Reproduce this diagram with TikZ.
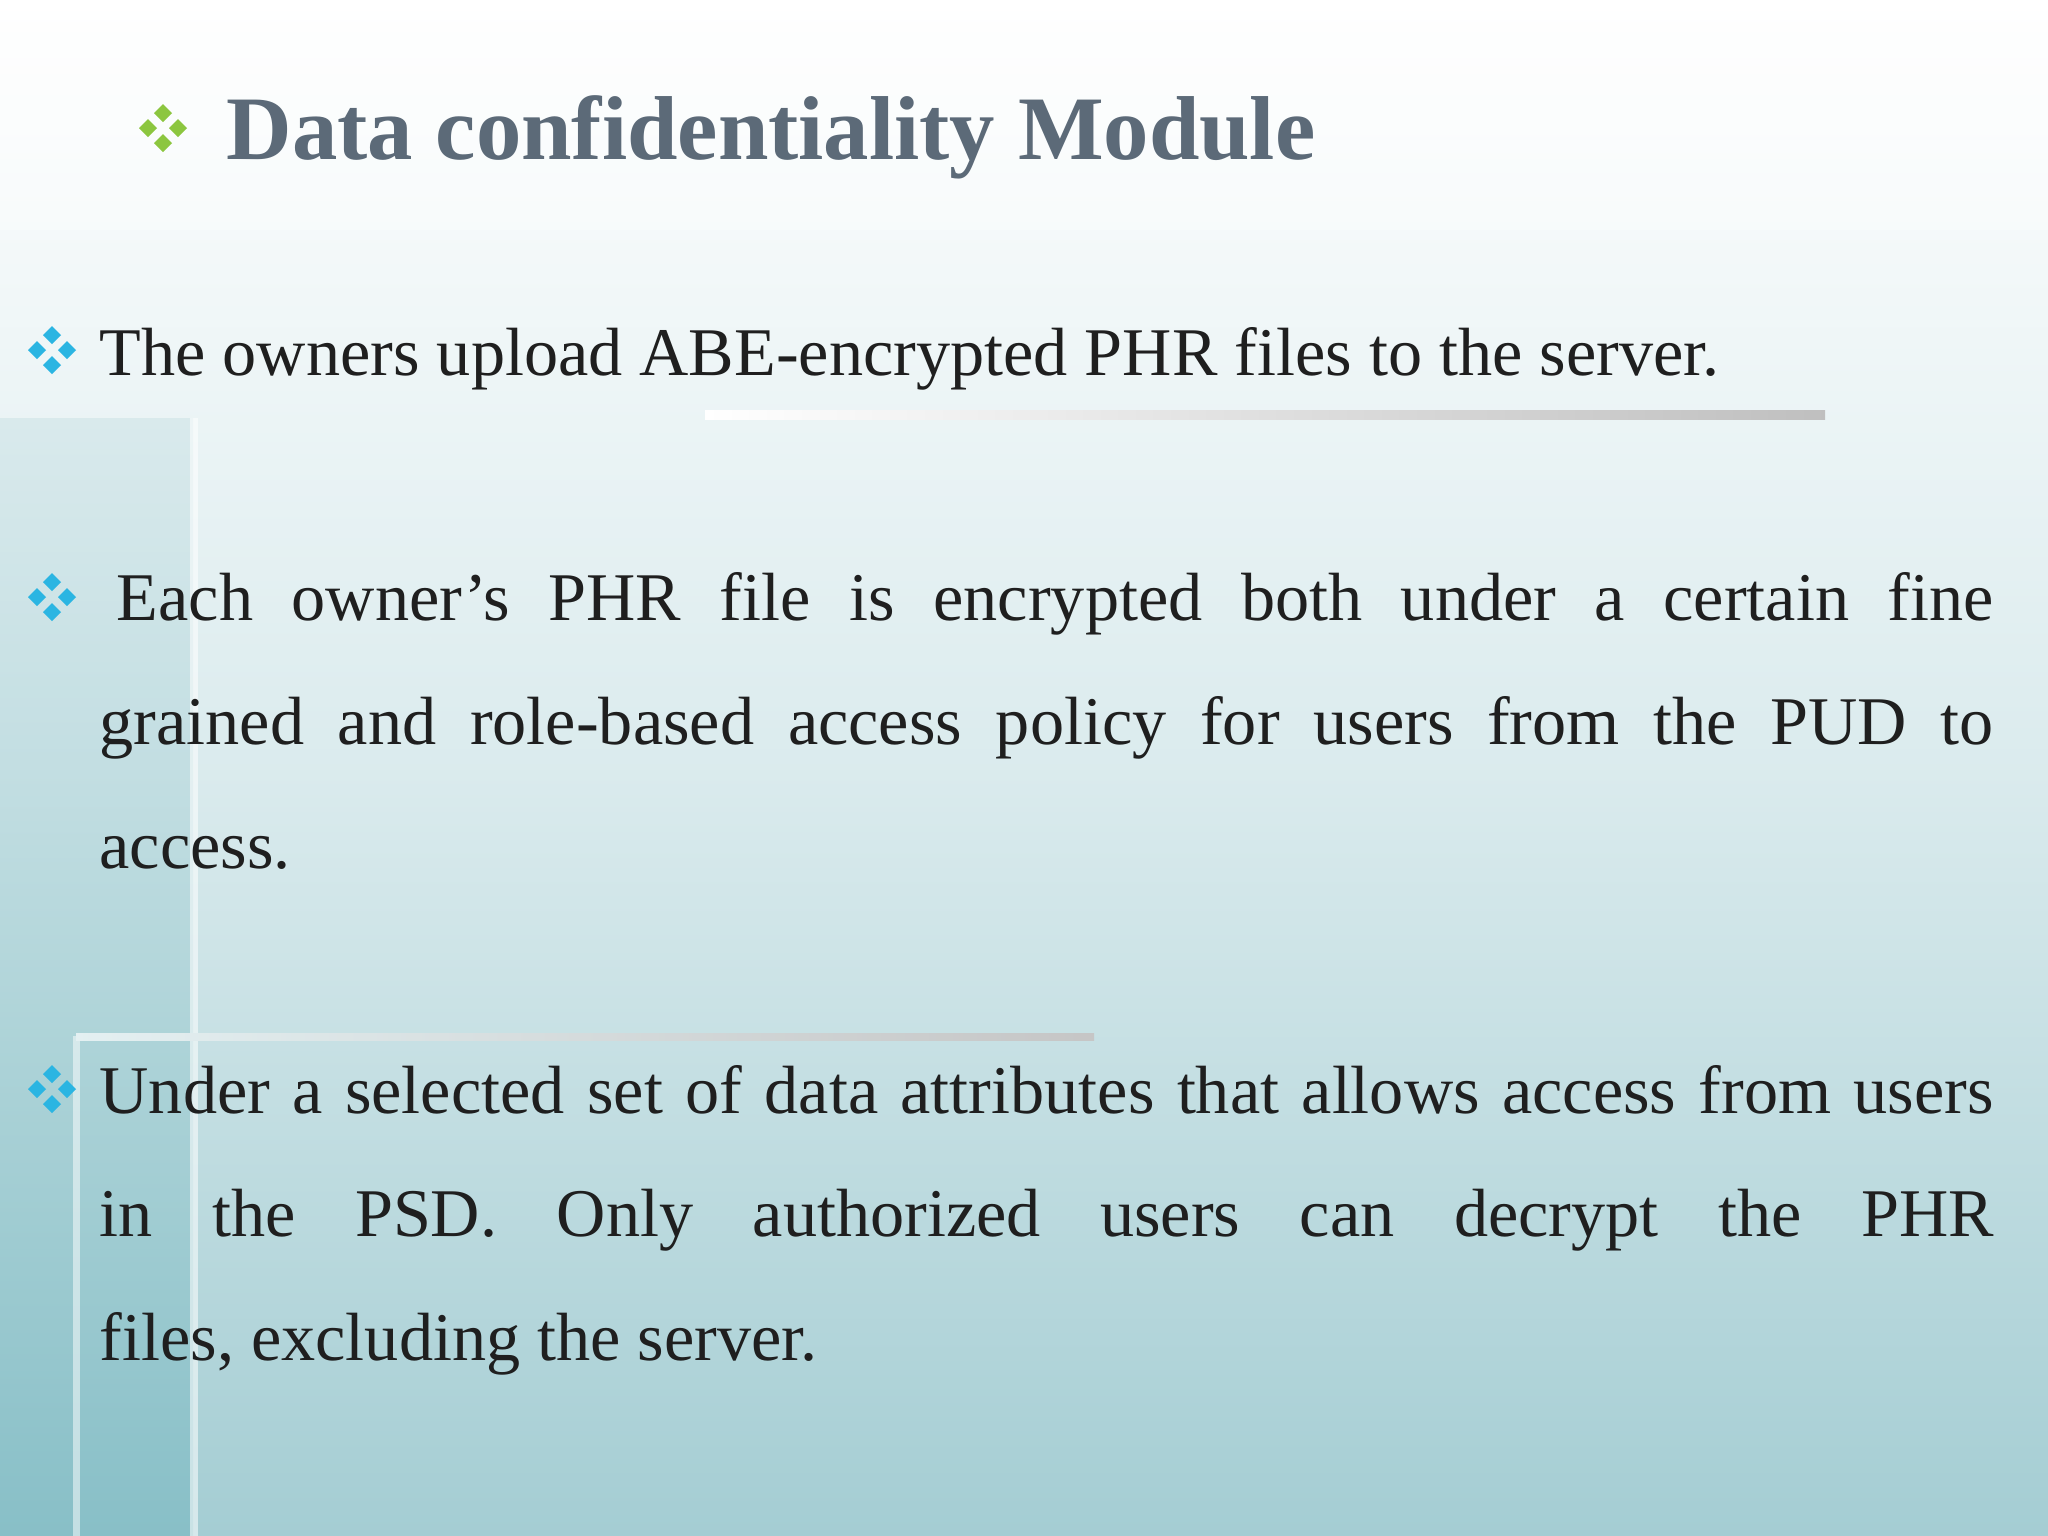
\documentclass[tikz,border=0pt]{standalone}
\usepackage{fontspec}
\setmainfont{Liberation Serif}
\newlength{\linew}
\setlength{\linew}{18.93cm}
\begin{document}
\begin{tikzpicture}[x=0.01cm,y=-0.01cm,
  txt/.style={anchor=base west,inner sep=0pt,text=black!88,font=\fontsize{19.4}{24}\selectfont}]
\definecolor{tealbot}{HTML}{A4CDD3}
\definecolor{tealleft}{HTML}{6DB3BC}
\definecolor{titlec}{HTML}{5C6A78}
\definecolor{bgreen}{HTML}{8CC63F}
\definecolor{bcyan}{HTML}{2BB5E2}
\useasboundingbox (0,0) rectangle (2048,1536);
\shade[top color=white,bottom color=tealbot,middle color=white!60!tealbot] (0,0) rectangle (2048,1536);
\fill[white,opacity=0.35] (0,0) rectangle (2048,230);
\shade[top color=white!40!tealbot,bottom color=tealleft,opacity=0.5] (0,418) rectangle (193,1536);
% decorative lines
\shade[left color=white,right color=gray!50,draw=none] (705,410) rectangle (1825,419);
\fill[white,opacity=0.55] (190,418) rectangle (198,1536);
\fill[white,opacity=0.5] (73,1036) rectangle (80,1536);
\shade[left color=white!70!tealbot,right color=gray!45,draw=none] (76,1033) rectangle (1094,1040);
% bullets
\newcommand{\quadbul}[3]{%
  \foreach \dx/\dy in {0/-1,0/1,-1/0,1/0}{
    \fill[#3] ({#1+\dx*15},{#2+\dy*15}) -- ++(9,0) -- ++(-9,9) -- ++(-9,-9) -- cycle;
    \fill[#3] ({#1+\dx*15},{#2+\dy*15}) -- ++(9,0) -- ++(-9,-9) -- ++(-9,9) -- cycle;}}
\quadbul{163}{128}{bgreen}
\quadbul{52}{350}{bcyan}
\quadbul{52}{597}{bcyan}
\quadbul{52}{1089}{bcyan}
\node[txt,text=titlec,font=\fontsize{25.8}{32}\selectfont\bfseries] (title) at (226,159) {Data confidentiality Module};
\node[txt] (l1) at (99,375) {The owners upload ABE-encrypted PHR files to the server.};
\node[txt] (l2) at (99,620) {\makebox[\linew][s]{\hspace*{0.25em}Each owner’s PHR file is encrypted both under a certain fine}};
\node[txt] (l3) at (99,744) {\makebox[\linew][s]{grained and role-based access policy for users from the PUD to}};
\node[txt] (l4) at (99,868) {access.};
\node[txt] (l5) at (99,1113) {\makebox[\linew][s]{Under a selected set of data attributes that allows access from users}};
\node[txt] (l6) at (99,1236) {\makebox[\linew][s]{in the PSD. Only authorized users can decrypt the PHR}};
\node[txt] (l7) at (99,1360) {files, excluding the server.};
\end{tikzpicture}
\end{document}
